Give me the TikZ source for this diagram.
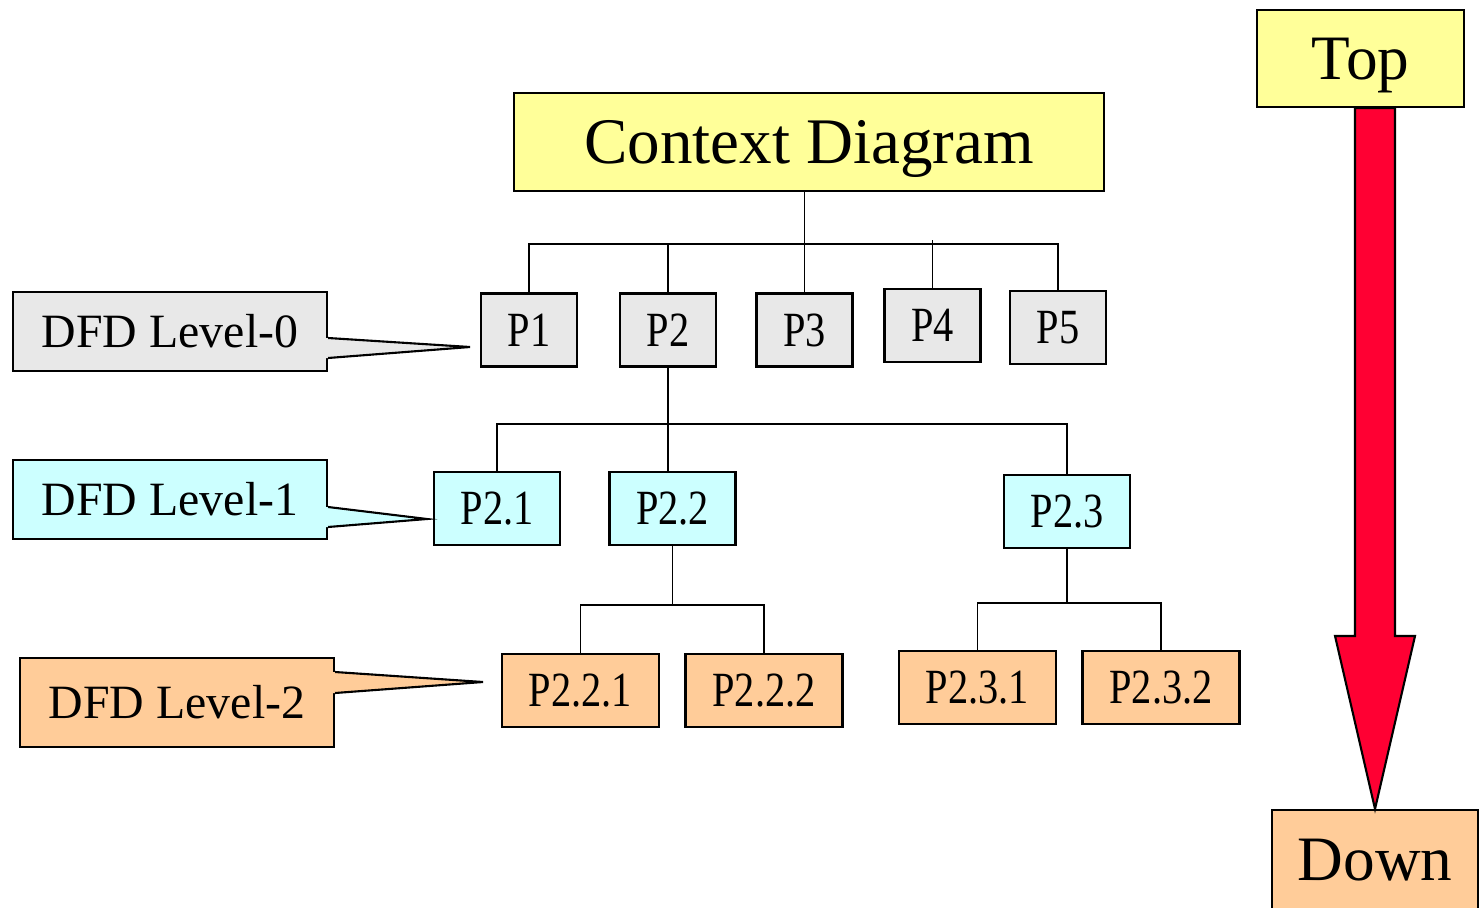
\documentclass[tikz,border=0pt]{standalone}
\usepackage{fontspec}
\setmainfont{Liberation Serif}
\newfontfamily\narrowfont[FakeStretch=0.82]{Liberation Serif}

\definecolor{ctxyellow}{HTML}{FFFF99}
\definecolor{lvlgray}{HTML}{E8E8E8}
\definecolor{lvlcyan}{HTML}{CCFFFF}
\definecolor{lvlorange}{HTML}{FFCC99}
\definecolor{arrowred}{HTML}{FF0033}

% pointer of a level callout: node, top offset, bottom offset, tip, colour
\newcommand{\pointer}[5]{%
  \fill[#5] ([shift={(-0.05,#2)}]#1.east) -- ([shift={(0,#2)}]#1.east) -- (#4)
    -- ([shift={(0,#3)}]#1.east) -- ([shift={(-0.05,#3)}]#1.east) -- cycle;
  \draw[line width=0.6pt] ([shift={(0,#2)}]#1.east) -- (#4) -- ([shift={(0,#3)}]#1.east);
}

\begin{document}
\begin{tikzpicture}
\tikzstyle{every node}=[inner sep=0pt, text depth=0pt]
\tikzstyle{framed}=[draw, line width=0.6pt]
\tikzstyle{procbox}=[framed, font=\fontsize{14}{16}\narrowfont, text height=9.3pt, minimum height=0.73cm]
\tikzstyle{levelbox}=[framed, font=\fontsize{13.6}{16}\selectfont, text height=9pt, minimum width=3.14cm, minimum height=0.79cm]
\tikzstyle{bigbox}=[framed, font=\fontsize{18}{20}\selectfont, text height=11.9pt]
\tikzstyle{wire}=[line width=0.55pt]
\useasboundingbox (0,0) rectangle (14.79,-9.07);

\node[bigbox, fill=ctxyellow, minimum width=5.90cm, minimum height=0.98cm, font=\fontsize{18.5}{20}\selectfont, text height=12.2pt] (context) at (8.09,-1.42) {Context Diagram};

% level 0
\node[procbox, fill=lvlgray, minimum width=0.96cm] (p1) at (5.29,-3.30) {P1};
\node[procbox, fill=lvlgray, minimum width=0.96cm] (p2) at (6.68,-3.30) {P2};
\node[procbox, fill=lvlgray, minimum width=0.96cm] (p3) at (8.045,-3.30) {P3};
\node[procbox, fill=lvlgray, minimum width=0.96cm] (p4) at (9.325,-3.255) {P4};
\node[procbox, fill=lvlgray, minimum width=0.96cm] (p5) at (10.58,-3.275) {P5};

% level 1
\node[procbox, fill=lvlcyan, minimum width=1.26cm] (p21) at (4.97,-5.085) {P2.1};
\node[procbox, fill=lvlcyan, minimum width=1.26cm] (p22) at (6.725,-5.085) {P2.2};
\node[procbox, fill=lvlcyan, minimum width=1.26cm] (p23) at (10.67,-5.115) {P2.3};

% level 2
\node[procbox, fill=lvlorange, minimum width=1.57cm] (p221) at (5.805,-6.905) {P2.2.1};
\node[procbox, fill=lvlorange, minimum width=1.57cm] (p222) at (7.64,-6.905) {P2.2.2};
\node[procbox, fill=lvlorange, minimum width=1.57cm] (p231) at (9.775,-6.875) {P2.3.1};
\node[procbox, fill=lvlorange, minimum width=1.57cm] (p232) at (11.61,-6.875) {P2.3.2};

\coordinate (bus0) at (0,-2.44);
\coordinate (bus1) at (0,-4.24);
\coordinate (bus2) at (0,-6.05);
\coordinate (bus3) at (0,-6.03);

\draw[wire] (p3.north) -- (p3.north |- context.south);
\draw[wire] (p1.north) |- (p5.north |- bus0) -- (p5.north);
\draw[wire] (p2.north) -- (p2.north |- bus0);
\draw[wire] (p4.north) -- ([yshift=0.04cm]p4.north |- bus0);

\draw[wire] (p2.south) -- (p2.south |- p22.north);
\draw[wire] (p21.north) |- (p23.north |- bus1) -- (p23.north);

\draw[wire] (p22.south) -- (p22.south |- bus2);
\draw[wire] (p221.north) |- (p222.north |- bus2) -- (p222.north);
\draw[wire] (p23.south) -- (p23.south |- bus3);
\draw[wire] (p231.north) |- (p232.north |- bus3) -- (p232.north);

% level callouts
\node[levelbox, fill=lvlgray] (lvl0) at (1.70,-3.315) {DFD Level-0};
\node[levelbox, fill=lvlcyan] (lvl1) at (1.70,-4.995) {DFD Level-1};
\node[levelbox, fill=lvlorange, minimum height=0.89cm] (lvl2) at (1.77,-7.025) {DFD Level-2};
\coordinate (tip0) at (4.70,-3.47);
\coordinate (tip1) at (4.27,-5.19);
\coordinate (tip2) at (4.83,-6.82);
\pointer{lvl0}{-0.065}{-0.265}{tip0}{lvlgray}
\pointer{lvl1}{-0.075}{-0.275}{tip1}{lvlcyan}
\pointer{lvl2}{0.305}{0.095}{tip2}{lvlorange}

% top down arrow
\node[bigbox, fill=ctxyellow, minimum width=2.07cm, minimum height=0.97cm] (top) at (13.605,-0.585) {Top};
\node[bigbox, fill=lvlorange, minimum width=2.06cm, minimum height=1.0cm] (down) at (13.75,-8.60) {Down};
\coordinate (shafttop) at (top.south -| down.north);
\filldraw[fill=arrowred, line width=0.6pt] (down.north) -- ++(-0.4,1.73) -- ++(0.2,0)
  -- ([xshift=-0.2cm]shafttop) -- ([xshift=0.2cm]shafttop)
  -- ([shift={(0.2,1.73)}]down.north) -- ++(0.2,0) -- cycle;
\end{tikzpicture}
\end{document}
